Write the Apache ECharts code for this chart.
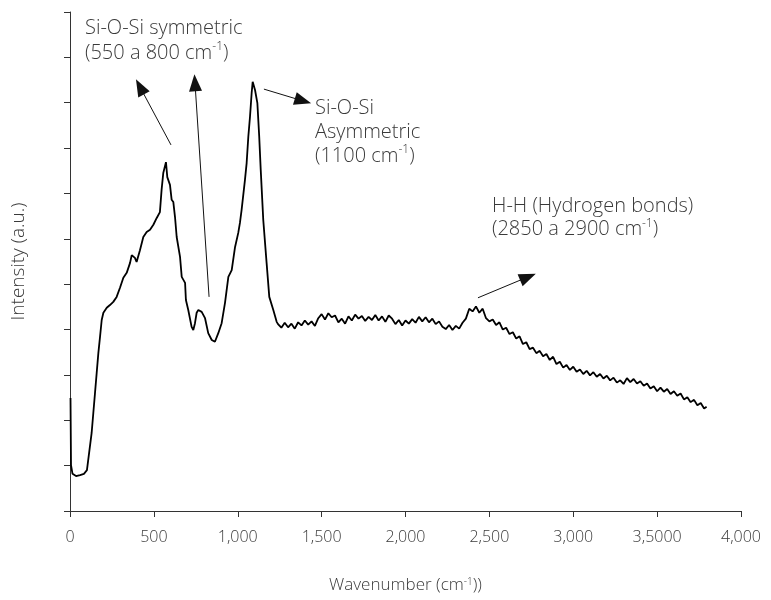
<!DOCTYPE html>
<html>
<head>
<meta charset="utf-8">
<script src="https://cdn.jsdelivr.net/npm/echarts@6/dist/echarts.min.js"></script>
<style>
  html, body { margin: 0; padding: 0; background: #fff; }
  #chart { width: 771px; height: 600px; }
</style>
</head>
<body>
<div id="chart"></div>
<script>
  // wavenumber (cm-1) and intensity (a.u.)
  var wavenumber = [
    3, 6, 15, 36, 60, 83, 101, 109, 129, 139, 149, 159, 169, 179, 189, 199,
    219, 238, 258, 278, 298, 318, 338, 358, 368, 387, 397, 417, 437, 457, 477,
    497, 517, 536, 546, 556, 572, 580, 596, 606, 616, 626, 636, 656, 666, 686,
    691, 705, 725, 735, 745, 755, 765, 785, 805, 824, 845, 864, 884, 904, 924,
    944, 964, 984, 1003, 1013, 1023, 1043, 1053, 1063, 1073, 1083, 1089, 1103,
    1117, 1128, 1137, 1152, 1172, 1188, 1212, 1232,
    1240, 1260, 1280, 1300, 1320, 1340, 1360, 1380, 1400, 1420, 1440, 1460,
    1480, 1500, 1520, 1540, 1560, 1580, 1600, 1620, 1640, 1660, 1680, 1700,
    1720, 1740, 1760, 1780, 1800, 1820, 1840, 1860, 1880, 1900, 1920, 1940,
    1960, 1980, 2000, 2020, 2040, 2060, 2080, 2100, 2120, 2140, 2160, 2180,
    2200, 2220, 2240, 2260, 2280, 2300, 2320, 2340, 2360, 2380, 2400, 2420,
    2440, 2460, 2480, 2500, 2520, 2540, 2560, 2580, 2600, 2620, 2640, 2660,
    2680, 2700, 2720, 2740, 2760, 2780, 2800, 2820, 2840, 2860, 2880, 2900,
    2920, 2940, 2960, 2980, 3000, 3020, 3040, 3060, 3080, 3100, 3120, 3140,
    3160, 3180, 3200, 3220, 3240, 3260, 3280, 3300, 3320, 3340, 3360, 3380,
    3400, 3420, 3440, 3460, 3480, 3500, 3520, 3540, 3560, 3580, 3600, 3620,
    3640, 3660, 3680, 3700, 3720, 3740, 3760, 3780, 3795
  ]
  var intensity = [
    249, 101, 82, 77, 79, 82, 90, 90, 172, 216, 260, 304, 348, 384, 421, 437,
    448, 454, 461, 472, 492, 514, 525, 547, 564, 558, 549, 575, 604, 615, 620,
    631, 646, 659, 708, 745, 769, 736, 719, 686, 681, 648, 604, 560, 516, 503,
    465, 443, 406, 399, 414, 437, 443, 439, 425, 392, 377, 373, 392, 414, 459,
    516, 531, 582, 613, 635, 664, 730, 767, 825, 869, 922, 946, 928,
    899, 825, 752, 642, 547, 472, 443, 417,
    412, 404, 415, 405, 413, 402, 416, 409, 420, 411, 418, 408,
    425, 434, 422, 436, 427, 431, 416, 424, 413, 429, 420, 433,
    424, 430, 419, 428, 421, 432, 420, 429, 417, 431, 424, 412,
    421, 409, 420, 413, 423, 415, 428, 418, 427, 416, 424, 412,
    418, 406, 401, 410, 399, 408, 402, 415, 424, 446, 440, 451,
    437, 446, 425, 418, 422, 410, 416, 400, 404, 390, 394, 380,
    385, 368, 372, 357, 360, 348, 353, 341, 346, 333, 340, 324,
    329, 316, 322, 311, 318, 307, 312, 302, 309, 299, 306, 296,
    302, 292, 298, 288, 294, 283, 288, 280, 293, 284, 291, 281,
    286, 276, 281, 270, 275, 264, 272, 263, 269, 258, 264, 254,
    259, 246, 251, 240, 245, 233, 238, 226, 230
  ]
  var xTickLabels = ['0', '500', '1,000', '1,500', '2,000', '2,500', '3,000', '3,5000', '4,000']

  // annotation arrows: [tail wavenumber, tail intensity, head wavenumber, head intensity]
  var arrows = [
    [602, 807, 417, 935],
    [829, 472, 745, 944],
    [1156, 930, 1389, 904],
    [2432, 470, 2730, 516]
  ]

  var textColor = '#3a3a3a'
  var font = '"Open Sans", "Noto Sans", sans-serif'
  var supStyle = { fontSize: 12, fontFamily: font, fontWeight: 300, color: textColor, verticalAlign: 'top', padding: [0, 0, 7, 0] }

  var chart = echarts.init(document.getElementById('chart'))
  chart.setOption({
    animation: false,
    backgroundColor: '#fff',
    grid: { left: 70, right: 30, top: 12, bottom: 89, outerBoundsMode: 'none', containLabel: false },
    xAxis: {
      type: 'value',
      min: 0,
      max: 4000,
      interval: 500,
      name: 'Wavenumber (cm{sup|-1}))',
      nameLocation: 'middle',
      nameGap: 66,
      nameTextStyle: {
        fontSize: 17, fontFamily: font, fontWeight: 300, color: textColor,
        rich: { sup: { fontSize: 10, fontFamily: font, color: textColor, verticalAlign: 'top', padding: [0, 0, 6, 0] } }
      },
      splitLine: { show: false },
      axisLine: { onZero: false, lineStyle: { color: '#333', width: 1 } },
      axisTick: { length: 6, lineStyle: { color: '#333' } },
      axisLabel: {
        margin: 18, fontSize: 16, fontFamily: font, fontWeight: 300, color: textColor,
        formatter: function (v) { return xTickLabels[Math.round(v / 500)] }
      }
    },
    yAxis: {
      type: 'value',
      min: 0,
      max: 1100,
      interval: 100,
      name: 'Intensity (a.u.)',
      nameLocation: 'middle',
      nameGap: 42,
      nameRotate: 90,
      nameTextStyle: { fontSize: 19, fontFamily: font, fontWeight: 300, color: textColor },
      splitLine: { show: false },
      axisLine: { show: true, lineStyle: { color: '#333', width: 1 } },
      axisTick: { show: true, length: 6, lineStyle: { color: '#333' } },
      axisLabel: { show: false }
    },
    series: [{
      type: 'line',
      data: wavenumber.map(function (w, i) { return [w, intensity[i]] }),
      showSymbol: false,
      lineStyle: { color: '#000', width: 1.8 },
      markLine: {
        silent: true,
        symbol: ['none', 'triangle'],
        symbolSize: [13, 17],
        label: { show: false },
        lineStyle: { color: '#111', width: 1, type: 'solid' },
        data: arrows.map(function (a) {
          return [{ coord: [a[0], a[1]] }, { coord: [a[2], a[3]] }]
        })
      }
    }],
    graphic: [
      {
        type: 'text', left: 85, top: 16,
        style: {
          text: 'Si-O-Si symmetric\n(550 a 800 cm{sup|-1})',
          font: '300 20px ' + font, fill: textColor, lineHeight: 25,
          rich: { sup: supStyle }
        }
      },
      {
        type: 'text', left: 315, top: 96,
        style: {
          text: 'Si-O-Si\nAsymmetric\n(1100 cm{sup|-1})',
          font: '300 20px ' + font, fill: textColor, lineHeight: 24,
          rich: { sup: supStyle }
        }
      },
      {
        type: 'text', left: 492, top: 195,
        style: {
          text: 'H-H (Hydrogen bonds)\n(2850 a 2900 cm{sup|-1})',
          font: '300 20px ' + font, fill: textColor, lineHeight: 23,
          rich: { sup: supStyle }
        }
      }
    ]
  })
</script>
</body>
</html>
